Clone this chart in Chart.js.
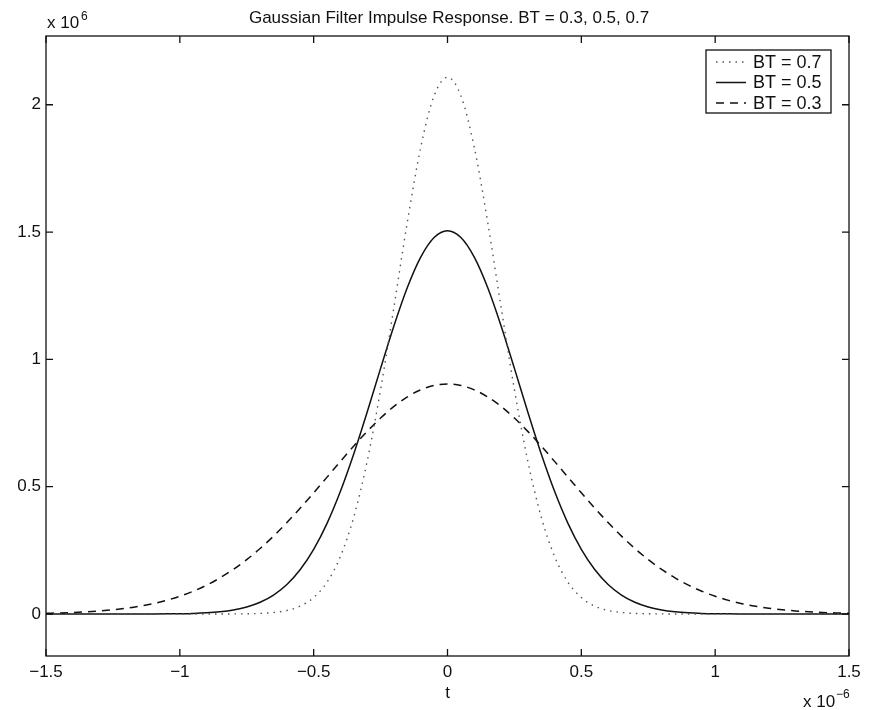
<!DOCTYPE html>
<html>
<head>
<meta charset="utf-8">
<title>Gaussian Filter Impulse Response</title>
<script src="https://cdn.jsdelivr.net/npm/chart.js@4"></script>
<style>
body { margin: 0; background: #fff; }
#wrap { width: 874px; height: 710px; }
</style>
</head>
<body>
<div id="wrap"><canvas id="gauss"></canvas></div>
<script>
// time axis, in units of 1e-6 s
const tValues = [-1.5, -1.45, -1.4, -1.35, -1.3, -1.25, -1.2, -1.15, -1.1, -1.05,
  -1.0, -0.95, -0.9, -0.85, -0.8, -0.75, -0.7, -0.65, -0.6, -0.55,
  -0.5, -0.45, -0.4, -0.35, -0.3, -0.25, -0.2, -0.15, -0.1, -0.05,
  0,
  0.05, 0.1, 0.15, 0.2, 0.25, 0.3, 0.35, 0.4, 0.45, 0.5,
  0.55, 0.6, 0.65, 0.7, 0.75, 0.8, 0.85, 0.9, 0.95, 1.0,
  1.05, 1.1, 1.15, 1.2, 1.25, 1.3, 1.35, 1.4, 1.45, 1.5];

// impulse response, in units of 1e6
const bt07 = [0, 0, 0, 0, 0, 0, 0, 0, 0, 0,
  0, 0, 0, 0.0001, 0.0003, 0.0008, 0.0023, 0.0058, 0.0139, 0.0309,
  0.0644, 0.1249, 0.2260, 0.3814, 0.6003, 0.8811, 1.2061, 1.5397, 1.8331, 2.0353,
  2.1076,
  2.0353, 1.8331, 1.5397, 1.2061, 0.8811, 0.6003, 0.3814, 0.2260, 0.1249, 0.0644,
  0.0309, 0.0139, 0.0058, 0.0023, 0.0008, 0.0003, 0.0001, 0, 0, 0,
  0, 0, 0, 0, 0, 0, 0, 0, 0, 0];

const bt05 = [0, 0, 0, 0, 0, 0, 0, 0.0001, 0.0003, 0.0006,
  0.0012, 0.0024, 0.0047, 0.0088, 0.0158, 0.0274, 0.0460, 0.0744, 0.1160, 0.1747,
  0.2540, 0.3561, 0.4819, 0.6294, 0.7932, 0.9647, 1.1324, 1.2826, 1.4019, 1.4788,
  1.5054,
  1.4788, 1.4019, 1.2826, 1.1324, 0.9647, 0.7932, 0.6294, 0.4819, 0.3561, 0.2540,
  0.1747, 0.1160, 0.0744, 0.0460, 0.0274, 0.0158, 0.0088, 0.0047, 0.0024, 0.0012,
  0.0006, 0.0003, 0.0001, 0, 0, 0, 0, 0, 0, 0];

const bt03 = [0.0028, 0.0041, 0.0059, 0.0085, 0.0119, 0.0165, 0.0225, 0.0305, 0.0406, 0.0535,
  0.0696, 0.0894, 0.1133, 0.1418, 0.1752, 0.2137, 0.2573, 0.3058, 0.3590, 0.4160,
  0.4759, 0.5375, 0.5994, 0.6598, 0.7172, 0.7695, 0.8152, 0.8526, 0.8804, 0.8974,
  0.903,
  0.8974, 0.8804, 0.8526, 0.8152, 0.7695, 0.7172, 0.6598, 0.5994, 0.5375, 0.4759,
  0.4160, 0.3590, 0.3058, 0.2573, 0.2137, 0.1752, 0.1418, 0.1133, 0.0894, 0.0696,
  0.0535, 0.0406, 0.0305, 0.0225, 0.0165, 0.0119, 0.0085, 0.0059, 0.0041, 0.0028];

const legendLabels = ["BT = 0.7", "BT = 0.5", "BT = 0.3"];
const xTicks = [-1.5, -1, -0.5, 0, 0.5, 1, 1.5];
const yTicks = [0, 0.5, 1, 1.5, 2];

const FONT = "'Liberation Sans', Arial, sans-serif";
const INK = "#111";

const pts = arr => arr.map((v, i) => ({ x: tValues[i], y: v }));
const fmt = v => (v < 0 ? "\u2212" : "") + Math.abs(v);

// matlab style box, inward ticks, legend, labels
const matlabBox = {
  id: "matlabBox",
  afterDraw(chart) {
    const { ctx, chartArea: a, scales: { x, y } } = chart;
    ctx.save();
    ctx.strokeStyle = INK;
    ctx.lineWidth = 1.3;
    ctx.strokeRect(a.left, a.top, a.right - a.left, a.bottom - a.top);

    ctx.beginPath();
    xTicks.forEach(v => {
      const px = x.getPixelForValue(v);
      ctx.moveTo(px, a.bottom); ctx.lineTo(px, a.bottom - 7);
      ctx.moveTo(px, a.top); ctx.lineTo(px, a.top + 7);
    });
    yTicks.forEach(v => {
      const py = y.getPixelForValue(v);
      ctx.moveTo(a.left, py); ctx.lineTo(a.left + 7, py);
      ctx.moveTo(a.right, py); ctx.lineTo(a.right - 7, py);
    });
    ctx.stroke();

    ctx.fillStyle = INK;
    const cx = (a.left + a.right) / 2;
    ctx.textAlign = "center";
    ctx.textBaseline = "middle";
    ctx.font = "17px " + FONT;
    ctx.fillText("Gaussian Filter Impulse Response. BT = 0.3, 0.5, 0.7", 449, 18);
    ctx.fillText("t", cx, 693);

    // exponent labels
    ctx.textAlign = "left";
    ctx.textBaseline = "alphabetic";
    ctx.font = "17px " + FONT;
    ctx.fillText("x 10", a.left + 1, 28);
    ctx.font = "12px " + FONT;
    ctx.fillText("6", a.left + 35, 20);
    ctx.font = "17px " + FONT;
    ctx.fillText("x 10", 803, 707);
    ctx.font = "12px " + FONT;
    ctx.fillText("\u22126", 836, 698);

    // legend
    const lx = 706, ly = 50, lw = 125, lh = 63;
    ctx.fillStyle = "#fff";
    ctx.fillRect(lx, ly, lw, lh);
    ctx.strokeStyle = INK;
    ctx.lineWidth = 1.3;
    ctx.strokeRect(lx, ly, lw, lh);
    chart.data.datasets.forEach((ds, i) => {
      const ry = ly + 12 + i * 20.5;
      ctx.beginPath();
      ctx.strokeStyle = ds.borderColor;
      ctx.lineWidth = ds.borderWidth;
      ctx.setLineDash(ds.borderDash || []);
      ctx.moveTo(lx + 10, ry); ctx.lineTo(lx + 40, ry);
      ctx.stroke();
      ctx.setLineDash([]);
      ctx.fillStyle = INK;
      ctx.font = "18px " + FONT;
      ctx.textBaseline = "middle";
      ctx.fillText(legendLabels[i], lx + 47, ry + 1);
    });
    ctx.restore();
  }
};

new Chart(document.getElementById("gauss"), {
  type: "line",
  data: {
    datasets: [
      { label: legendLabels[0], data: pts(bt07), borderColor: "#555", borderWidth: 1.4, borderDash: [1.5, 5] },
      { label: legendLabels[1], data: pts(bt05), borderColor: INK, borderWidth: 1.5 },
      { label: legendLabels[2], data: pts(bt03), borderColor: INK, borderWidth: 1.5, borderDash: [8, 6] }
    ]
  },
  options: {
    responsive: true,
    maintainAspectRatio: false,
    animation: false,
    events: [],
    layout: { padding: { top: 36, right: 25, left: 0, bottom: 0 } },
    elements: {
      point: { radius: 0 },
      line: { cubicInterpolationMode: "monotone", fill: false }
    },
    plugins: { legend: { display: false }, title: { display: false }, tooltip: { enabled: false } },
    scales: {
      x: {
        type: "linear",
        min: -1.5, max: 1.5,
        afterFit: s => { s.height = 54; },
        afterBuildTicks: s => { s.ticks = xTicks.map(v => ({ value: v })); },
        grid: { display: false, drawTicks: false },
        border: { display: false },
        ticks: { padding: 6, color: INK, font: { family: FONT, size: 17 }, callback: v => fmt(v), maxRotation: 0 }
      },
      y: {
        type: "linear",
        min: -0.165, max: 2.27,
        afterFit: s => { s.width = 46; },
        afterBuildTicks: s => { s.ticks = yTicks.map(v => ({ value: v })); },
        grid: { display: false, drawTicks: false },
        border: { display: false },
        ticks: { padding: 5, color: INK, font: { family: FONT, size: 17 }, callback: v => fmt(v) }
      }
    }
  },
  plugins: [matlabBox]
});
</script>
</body>
</html>
